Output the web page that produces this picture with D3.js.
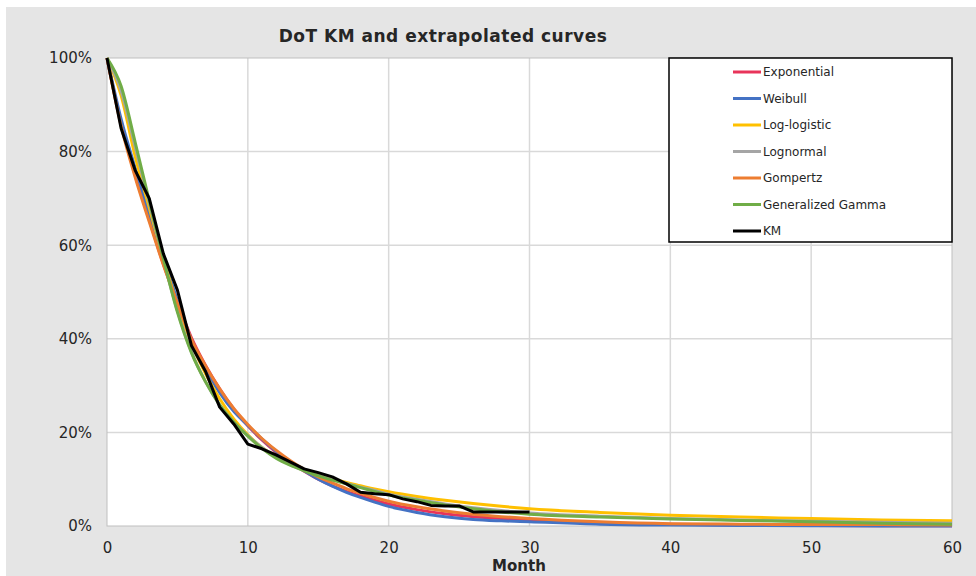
<!DOCTYPE html>
<html><head><meta charset="utf-8">
<script src="https://cdn.jsdelivr.net/npm/d3@7"></script>
<style>body{margin:0;background:#fff}svg{display:block}text{font-family:"DejaVu Sans",Verdana,sans-serif;fill:#262626}</style>
</head><body><svg id="c" width="976" height="576"></svg>
<script>
const title = "DoT KM and extrapolated curves";
const xLabel = "Month";
const xTicks = [0,10,20,30,40,50,60];
const yTicks = [0,0.2,0.4,0.6,0.8,1.0];
const seriesNames = ["Exponential","Weibull","Log-logistic","Lognormal","Gompertz","Generalized Gamma","KM"];
const seriesColors = ["#e8345a","#4472c4","#ffc000","#a5a5a5","#ed7d31","#70ad47","#000000"];

const fitMonths = [0,1,2,3,4,5,6,7,8,9,10,11,12,13,14,15,16,17,18,19,20,22,24,26,28,30,35,40,45,50,55,60];
const exponential = [1,0.86,0.75,0.655,0.56,0.478,0.402,0.343,0.293,0.25,0.214,0.184,0.158,0.136,0.117,0.1,0.086,0.074,0.064,0.055,0.047,0.035,0.026,0.02,0.016,0.013,0.007,0.004,0.002,0.0012,0.0007,0.0004];
const weibull = [1,0.87,0.765,0.665,0.572,0.482,0.397,0.335,0.285,0.245,0.215,0.186,0.16,0.138,0.118,0.1,0.085,0.072,0.061,0.051,0.042,0.029,0.02,0.014,0.011,0.009,0.004,0.002,0.001,0.0005,0.0002,0.0001];
const logLogistic = [1,0.92,0.79,0.68,0.572,0.472,0.39,0.325,0.272,0.229,0.195,0.168,0.148,0.133,0.12,0.11,0.101,0.093,0.086,0.079,0.073,0.063,0.055,0.048,0.042,0.037,0.029,0.023,0.019,0.016,0.013,0.011];
const lognormal = [1,0.93,0.81,0.69,0.57,0.46,0.372,0.308,0.259,0.222,0.193,0.168,0.147,0.131,0.119,0.108,0.099,0.091,0.083,0.076,0.068,0.057,0.047,0.039,0.033,0.028,0.021,0.016,0.013,0.01,0.008,0.006];
const gompertz = [1,0.855,0.745,0.65,0.558,0.476,0.398,0.342,0.293,0.251,0.217,0.187,0.162,0.14,0.121,0.105,0.092,0.08,0.07,0.061,0.053,0.041,0.032,0.025,0.02,0.016,0.009,0.005,0.004,0.003,0.003,0.002];
const genGamma = [1,0.94,0.82,0.695,0.572,0.457,0.37,0.308,0.259,0.222,0.192,0.166,0.145,0.13,0.118,0.107,0.098,0.09,0.082,0.074,0.066,0.055,0.045,0.037,0.03,0.025,0.019,0.015,0.012,0.009,0.006,0.004];

const kmMonths = [0,1,2,3,4,5,6,7,8,9,10,11,12,13,14,15,16,17,18,19,20,21,22,23,24,25,26,27,28,29,30];
const km = [1,0.85,0.76,0.70,0.582,0.504,0.385,0.33,0.254,0.218,0.175,0.165,0.152,0.137,0.122,0.114,0.105,0.09,0.072,0.069,0.067,0.058,0.052,0.044,0.043,0.043,0.03,0.03,0.03,0.03,0.03];

const svg = d3.select("#c");
const W = 976, H = 576;
const P = {l:107, r:952, t:58, b:526};

svg.append("rect").attr("width",W).attr("height",H).attr("fill","#fff");
svg.append("rect").attr("x",6).attr("y",7).attr("width",W-6).attr("height",H-7).attr("fill","#e5e5e5");
svg.append("rect").attr("x",P.l).attr("y",P.t).attr("width",P.r-P.l).attr("height",P.b-P.t).attr("fill","#fff");

const x = d3.scaleLinear().domain([0,60]).range([P.l,P.r]);
const y = d3.scaleLinear().domain([0,1]).range([P.b,P.t]);

// grid
const g = svg.append("g");
g.selectAll(".vg").data(xTicks.filter(d=>d>0&&d<60)).join("line")
 .attr("x1",d=>x(d)).attr("x2",d=>x(d)).attr("y1",P.t).attr("y2",P.b)
 .attr("stroke","#d9d9d9").attr("stroke-width",1.5);
g.selectAll(".hg").data(yTicks.filter(d=>d>0&&d<1)).join("line")
 .attr("x1",P.l).attr("x2",P.r).attr("y1",d=>y(d)).attr("y2",d=>y(d))
 .attr("stroke","#d9d9d9").attr("stroke-width",1.5);
svg.append("rect").attr("x",P.l).attr("y",P.t).attr("width",P.r-P.l).attr("height",P.b-P.t)
 .attr("fill","none").attr("stroke","#bfbfbf").attr("stroke-width",1);

// axes
const xAxis = d3.axisBottom(x).tickValues(xTicks).tickSize(0).tickPadding(16);
const xa = svg.append("g").attr("transform",`translate(0,${P.b})`).call(xAxis);
xa.select(".domain").remove();
xa.selectAll("text").style("font-size","15px").attr("fill","#262626");
const yAxis = d3.axisLeft(y).tickValues(yTicks).tickSize(0).tickPadding(15).tickFormat(d3.format(".0%"));
const ya = svg.append("g").attr("transform",`translate(${P.l},0)`).call(yAxis);
ya.select(".domain").remove();
ya.selectAll("text").style("font-size","15px").attr("fill","#262626");

svg.append("text").attr("x",443).attr("y",42).attr("text-anchor","middle")
 .style("font-size","17px").style("font-weight","bold").style("letter-spacing","0.5px")
 .attr("fill","#000").text(title);
svg.append("text").attr("x",519).attr("y",571).attr("text-anchor","middle")
 .style("font-size","15px").style("font-weight","bold").attr("fill","#000").text(xLabel);

// lines
const fits = [exponential, weibull, logLogistic, lognormal, gompertz, genGamma];
const lg = svg.append("g");
const fitLine = d3.line().x((d,i)=>x(fitMonths[i])).y(d=>y(d)).curve(d3.curveMonotoneX);
fits.forEach((s,k)=>{
  lg.append("path").datum(s).attr("d",fitLine).attr("fill","none")
    .attr("stroke",seriesColors[k]).attr("stroke-width",3).attr("stroke-linejoin","round");
});
const kmLine = d3.line().x((d,i)=>x(kmMonths[i])).y(d=>y(d));
lg.append("path").datum(km).attr("d",kmLine).attr("fill","none")
  .attr("stroke",seriesColors[6]).attr("stroke-width",3).attr("stroke-linejoin","round");

// legend
const L = {x:669, y:58, w:283, h:184};
svg.append("rect").attr("x",L.x).attr("y",L.y).attr("width",L.w).attr("height",L.h)
 .attr("fill","#fff").attr("stroke","#000").attr("stroke-width",1.5);
const li = svg.append("g").selectAll("g").data(seriesNames).join("g")
 .attr("transform",(d,i)=>`translate(0,${72+i*26.5})`);
li.append("line").attr("x1",733).attr("x2",761).attr("y1",0).attr("y2",0)
 .attr("stroke",(d,i)=>seriesColors[i]).attr("stroke-width",3);
li.append("text").attr("x",763).attr("y",0).attr("dy","0.35em").style("font-size","12px")
 .attr("fill","#262626").text(d=>d);
</script></body></html>
